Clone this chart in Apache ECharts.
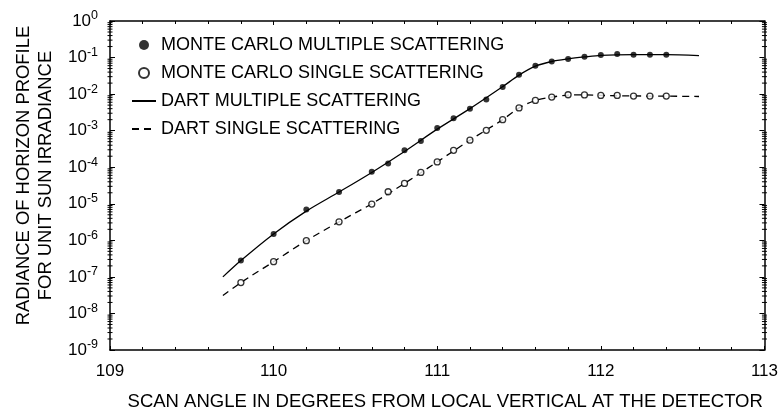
<!DOCTYPE html>
<html>
<head>
<meta charset="utf-8">
<script src="https://cdn.jsdelivr.net/npm/echarts@6/dist/echarts.min.js"></script>
<style>html,body{margin:0;padding:0;background:#fff}#c{width:781px;height:416px}</style>
</head>
<body>
<div id="c"></div>
<script>
// ---- data ----
const xTicks = [109, 110, 111, 112, 113];
const yTickExponents = [0, -1, -2, -3, -4, -5, -6, -7, -8, -9];

const mcAngles = [109.8, 110.0, 110.2, 110.4, 110.6, 110.7, 110.8, 110.9, 111.0, 111.1, 111.2, 111.3,
  111.4, 111.5, 111.6, 111.7, 111.8, 111.9, 112.0, 112.1, 112.2, 112.3, 112.4];
const mcMultiple = [2.8e-7, 1.5e-6, 7.0e-6, 2.1e-5, 7.5e-5, 1.26e-4, 2.9e-4, 5.2e-4, 1.19e-3, 2.2e-3, 4.0e-3, 7.1e-3,
  1.56e-2, 3.37e-2, 6.0e-2, 7.8e-2, 9.2e-2, 0.106, 0.118, 0.126, 0.120, 0.120, 0.120];
const mcSingle = [7.0e-8, 2.6e-7, 9.8e-7, 3.2e-6, 9.8e-6, 2.13e-5, 3.6e-5, 7.2e-5, 1.4e-4, 2.9e-4, 5.5e-4, 1.02e-3,
  2.0e-3, 4.2e-3, 6.7e-3, 8.3e-3, 9.6e-3, 9.5e-3, 9.2e-3, 9.2e-3, 8.85e-3, 8.85e-3, 8.85e-3];

const dartAngles = [109.69, 109.8, 110.0, 110.2, 110.4, 110.6, 110.8, 111.0, 111.2, 111.4, 111.5, 111.6,
  111.7, 111.8, 111.9, 112.0, 112.2, 112.4, 112.6];
const dartMultiple = [1.0e-7, 2.8e-7, 1.5e-6, 6.3e-6, 2.1e-5, 7.2e-5, 2.7e-4, 1.1e-3, 4.0e-3, 1.6e-2, 3.3e-2, 5.8e-2,
  7.8e-2, 9.2e-2, 0.104, 0.115, 0.120, 0.120, 0.113];
const dartSingle = [3.1e-8, 7.0e-8, 2.6e-7, 9.8e-7, 3.2e-6, 1.0e-5, 3.6e-5, 1.4e-4, 5.5e-4, 2.0e-3, 4.2e-3, 6.7e-3,
  8.3e-3, 9.4e-3, 9.5e-3, 9.2e-3, 8.9e-3, 8.8e-3, 8.6e-3];

const seriesNames = ['MONTE CARLO MULTIPLE SCATTERING', 'MONTE CARLO SINGLE SCATTERING',
  'DART MULTIPLE SCATTERING', 'DART SINGLE SCATTERING'];
const xTitle = 'SCAN ANGLE IN DEGREES FROM LOCAL VERTICAL AT THE DETECTOR';
const yTitle = ['RADIANCE OF HORIZON PROFILE', 'FOR UNIT SUN IRRADIANCE'];

// ---- chart ----
const FONT = 'Liberation Sans, Arial, sans-serif';
const zip = (xs, ys) => xs.map((x, i) => [x, ys[i]]);
const chart = echarts.init(document.getElementById('c'), null, {renderer: 'canvas'});

const axisLine = {show: true, lineStyle: {color: '#000', width: 1.5}};
const baseX = {
  type: 'value', min: xTicks[0], max: xTicks[xTicks.length - 1], interval: 1,
  axisLine, splitLine: {show: false},
  axisTick: {show: true, inside: true, length: 4, lineStyle: {color: '#000', width: 1}},
  minorTick: {show: true, splitNumber: 5, length: 3, lineStyle: {color: '#000', width: 1}}
};
const baseY = {
  type: 'log', logBase: 10, min: Math.pow(10, yTickExponents[yTickExponents.length - 1]),
  max: Math.pow(10, yTickExponents[0]), interval: 1,
  axisLine, splitLine: {show: false},
  axisTick: {show: true, inside: true, length: 5, lineStyle: {color: '#000', width: 1}}
};

const hiddenSymbol = {color: 'rgba(0,0,0,0)', borderColor: 'rgba(0,0,0,0)', borderWidth: 0, opacity: 0};

const option = {
  animation: false,
  backgroundColor: '#fff',
  grid: {left: 110, right: 14, top: 21, bottom: 64},
  legend: {
    orient: 'vertical', left: 126, top: 31, itemGap: 10, itemWidth: 24, itemHeight: 10,
    textStyle: {fontFamily: FONT, fontSize: 18, color: '#000'},
    selectedMode: false,
    data: [
      {name: seriesNames[0]},
      {name: seriesNames[1]},
      {name: seriesNames[2], itemStyle: hiddenSymbol},
      {name: seriesNames[3], itemStyle: hiddenSymbol}
    ]
  },
  xAxis: [
    Object.assign({}, baseX, {
      position: 'bottom',
      axisLabel: {show: true, color: '#000', fontFamily: FONT, fontSize: 17, margin: 13},
      name: xTitle, nameLocation: 'middle', nameGap: 42,
      nameTextStyle: {fontFamily: FONT, fontSize: 18.5, color: '#000', padding: [0, 0, 0, 16]}
    }),
    Object.assign({}, baseX, {position: 'top', axisLabel: {show: false}})
  ],
  yAxis: [
    Object.assign({}, baseY, {
      position: 'left',
      axisLabel: {
        show: true, margin: 12, color: '#000',
        formatter: v => '{b|10}{s|' + Math.round(Math.log10(v)) + '}',
        rich: {
          b: {fontFamily: FONT, fontSize: 17, color: '#000'},
          s: {fontFamily: FONT, fontSize: 12.5, color: '#000', padding: [0, 0, 10, 0]}
        }
      },
      name: yTitle.join('\n'), nameLocation: 'middle', nameGap: 52, nameRotate: 90,
      nameTextStyle: {fontFamily: FONT, fontSize: 18.4, color: '#000', lineHeight: 22, padding: [0, 0, 0, 20]}
    }),
    Object.assign({}, baseY, {position: 'right', axisLabel: {show: false}})
  ],
  series: [
    {
      name: seriesNames[0], type: 'scatter', data: zip(mcAngles, mcMultiple),
      symbol: 'circle', symbolSize: 6, z: 4,
      itemStyle: {color: '#000', borderColor: '#000', borderWidth: 0}
    },
    {
      name: seriesNames[1], type: 'scatter', data: zip(mcAngles, mcSingle),
      symbol: 'circle', symbolSize: 6, z: 4,
      itemStyle: {color: '#fff', borderColor: '#000', borderWidth: 1.3}
    },
    {
      name: seriesNames[2], type: 'line', data: zip(dartAngles, dartMultiple),
      smooth: 0.3, symbol: 'none', z: 3,
      lineStyle: {color: '#000', width: 1.3, type: 'solid'}, itemStyle: {color: '#000'}
    },
    {
      name: seriesNames[3], type: 'line', data: zip(dartAngles, dartSingle),
      smooth: 0.3, symbol: 'none', z: 3,
      lineStyle: {color: '#000', width: 1.3, type: [7, 5]}, itemStyle: {color: '#000'}
    }
  ]
};
chart.setOption(option);

// log minor ticks (2..9 per decade) on left and right axes, positioned by the axis scale
const xl = chart.convertToPixel({xAxisIndex: 0}, xTicks[0]);
const xr = chart.convertToPixel({xAxisIndex: 0}, xTicks[xTicks.length - 1]);
const ticks = [];
for (let e = yTickExponents[yTickExponents.length - 1]; e < yTickExponents[0]; e++) {
  for (let k = 2; k <= 9; k++) {
    const y = chart.convertToPixel({yAxisIndex: 0}, k * Math.pow(10, e));
    [xl, xr].forEach(x => ticks.push({
      type: 'line', silent: true,
      shape: {x1: x - 2.5, y1: y, x2: x + 2.5, y2: y},
      style: {stroke: '#000', lineWidth: 1}
    }));
  }
}
chart.setOption({graphic: ticks});
</script>
</body>
</html>
